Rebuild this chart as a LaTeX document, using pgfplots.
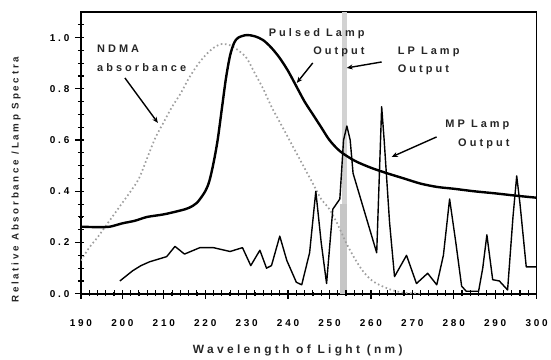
\documentclass[border=0pt]{standalone}
\usepackage{pgfplots}
\pgfplotsset{compat=1.18}
\usepackage{fontspec}
\setmainfont{Liberation Sans}[LetterSpace=28]
\usetikzlibrary{arrows.meta}
\begin{document}
\begin{tikzpicture}
\path (-81bp,-66bp) rectangle (470bp,294bp);
\begin{axis}[
  at={(0,0)}, anchor=south west,
  scale only axis, width=456bp, height=282bp,
  xmin=190, xmax=300, ymin=0, ymax=1.1,
  every axis/.append style={line width=1.6bp},
  xtick={190,200,210,220,230,240,250,260,270,280,290,300},
  ytick={0,0.2,0.4,0.6,0.8,1.0},
  minor xtick={192,194,...,298},
  minor ytick={0.05,0.1,0.15,0.25,0.3,0.35,0.45,0.5,0.55,0.65,0.7,0.75,0.85,0.9,0.95,1.05},
  tick pos=left,
  tick align=center,
  major tick length=7bp, minor tick length=4.5bp,
  tick style={black, line width=1.2bp},
  /pgf/number format/assume math mode=true,
  ticklabel style={font=\fontsize{10}{12}\selectfont\bfseries},
  yticklabel style={/pgf/number format/fixed, /pgf/number format/fixed zerofill, /pgf/number format/precision=1, anchor=east, xshift=-4bp},
  xticklabel style={/pgf/number format/1000 sep={}, anchor=base, yshift=-29bp},
]
% LP lamp output
\addplot[ycomb, line width=5bp, gray!35, mark=none] coordinates {(253.7,1.1)};
\addplot[ycomb, line width=7bp, gray!45, mark=none] coordinates {(253.5,0.35)};
% NDMA absorbance
\addplot[smooth, gray!75, line width=1.7bp, dash pattern=on 1.6bp off 2.6bp] coordinates {
(190,0.13)(192,0.18)(194,0.22)(196,0.265)(198,0.31)(200,0.355)(202,0.4)(204,0.45)
(206,0.53)(208,0.61)(210,0.67)(212,0.73)(214,0.78)(216,0.84)(218,0.89)(220,0.93)
(222,0.96)(224,0.975)(226,0.97)(228,0.95)(230,0.92)(232,0.86)(234,0.8)(236,0.73)
(238,0.67)(240,0.61)(242,0.55)(244,0.49)(246,0.43)(248,0.37)(250,0.33)(252,0.27)
(254,0.2)(256,0.14)(258,0.09)(260,0.055)(262,0.035)(265,0.015)(268,0.004)(272,0)};
% Pulsed lamp output
\addplot[smooth, black, line width=2.4bp] coordinates {
(190,0.262)(194,0.26)(197,0.262)(200,0.275)(203,0.285)(206,0.3)(210,0.31)(214,0.325)
(216,0.335)(218,0.355)(220,0.4)(221,0.44)(222,0.51)(223,0.6)(224,0.72)(225,0.84)
(226,0.93)(227,0.98)(228,1.0)(230,1.01)(232,1.005)(234,0.99)(236,0.96)(238,0.92)
(240,0.87)(242,0.81)(244,0.75)(246,0.7)(248,0.65)(250,0.6)(252.5,0.557)(256,0.52)
(260,0.492)(264,0.47)(268,0.45)(272,0.43)(276,0.417)(280,0.41)(285,0.4)(290,0.392)
(295,0.383)(300,0.375)};
% MP lamp output
\addplot[black, line width=1.4bp, line join=round] coordinates {
(199.4,0.05)(202.5,0.09)(204.5,0.11)(206.6,0.125)(210.7,0.145)(212.7,0.185)(215,0.155)
(218.7,0.18)(222,0.18)(226,0.165)(229,0.18)(231,0.11)(233.2,0.17)(234.8,0.1)(236,0.11)
(238,0.225)(239.7,0.13)(242,0.045)(243.3,0.035)(245.2,0.16)(246.7,0.4)(248,0.2)
(249.3,0.04)(250.8,0.33)(252.5,0.37)(253.4,0.6)(254.2,0.655)(255,0.6)(255.7,0.47)
(261.4,0.16)(262.6,0.73)(263.2,0.6)(264.5,0.28)(265.7,0.067)(268.6,0.15)(271,0.04)
(273.7,0.08)(275.9,0.035)(277.5,0.15)(279,0.37)(280.5,0.2)(281.9,0.03)(283,0.01)
(286,0.01)(287,0.1)(288,0.23)(289.4,0.055)(291,0.05)(293,0.015)(294.3,0.3)(295.2,0.46)
(296,0.35)(297.5,0.105)(300,0.105)};
\end{axis}
% tick marks drawn along the axis frame
\begin{scope}[line width=1.1bp, black]
\foreach \i in {0,...,55} {\draw ({\i*8.290909bp},-1bp) -- ({\i*8.290909bp},4bp);}
\foreach \i in {0,...,11} {\draw[line width=1.3bp] ({\i*41.454545bp},-5bp) -- ({\i*41.454545bp},3bp);}
\foreach \i in {0,...,21} {\draw ({-3bp},{\i*12.818182bp}) -- ({3bp},{\i*12.818182bp});}
\foreach \i in {0,...,5} {\draw[line width=1.3bp] ({-6bp},{\i*51.272727bp}) -- ({3bp},{\i*51.272727bp});}
\end{scope}
\begin{scope}[every node/.style={font=\fontsize{11}{13}\selectfont\bfseries, text=black!85, inner sep=0pt}]
\node[anchor=base west] at (16bp,241bp) {NDMA};
\node[anchor=base west] at (16bp,222bp) {absorbance};
\node[anchor=base east] at (284bp,257bp) {Pulsed Lamp};
\node[anchor=base east] at (284bp,239bp) {Output};
\node[anchor=base west] at (317bp,239bp) {LP Lamp};
\node[anchor=base west] at (317bp,221bp) {Output};
\node[anchor=base east] at (429bp,166bp) {MP Lamp};
\node[anchor=base east] at (429bp,147bp) {Output};
\node[anchor=base, font=\fontsize{12}{14}\selectfont\bfseries] at (217bp,-60bp) {Wavelength of Light (nm)};
\node[rotate=90, font=\fontsize{9.8}{12}\selectfont\bfseries] at (-65bp,114bp) {Relative Absorbance /Lamp Spectra};
\end{scope}
\begin{scope}[line width=1.4bp, -{Stealth[length=6bp,width=5bp]}]
\draw (44bp,216bp) -- (77bp,171bp);
\draw (232bp,231bp) -- (216bp,211bp);
\draw (301bp,232bp) -- (266bp,226bp);
\draw (356bp,157bp) -- (311bp,137bp);
\end{scope}
\end{tikzpicture}
\end{document}
